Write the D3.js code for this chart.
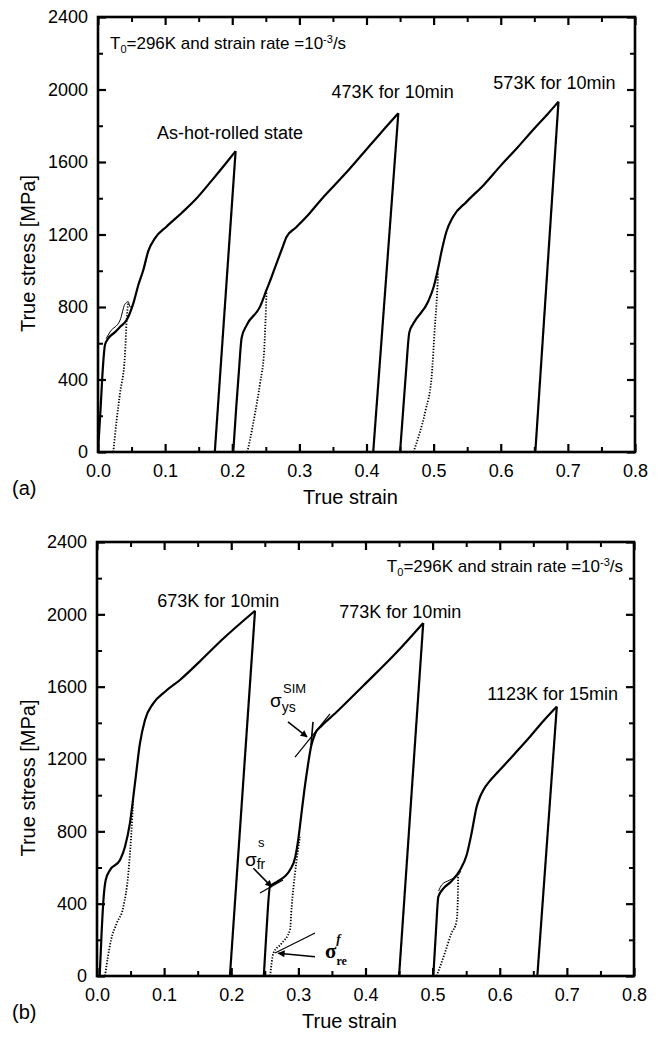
<!DOCTYPE html>
<head>
    <meta charset="utf-8">
    <title>True stress - true strain</title>
    <script src="https://cdn.jsdelivr.net/npm/d3@7"></script>
    <style>
        body { margin: 0; background: #fff; }
        text { font-family: Arial, "Liberation Sans", sans-serif; fill: #000; }
    </style>
</head>
<body>
<div id="container"></div>

<script>

// Axes
const strainTicks = [0, 0.1, 0.2, 0.3, 0.4, 0.5, 0.6, 0.7, 0.8];
const strainMinor = [0.05, 0.15, 0.25, 0.35, 0.45, 0.55, 0.65, 0.75];
const stressTicks = [0, 400, 800, 1200, 1600, 2000, 2400];
const stressMinor = [200, 600, 1000, 1400, 1800, 2200];

// (a) As-hot-rolled state
const hotLoad = [[0,0],[0.004,250],[0.007,450],[0.0104,590],[0.015,625],[0.025,660],[0.033,691],[0.0427,728],[0.0526,820],[0.06,920],[0.0675,1004],[0.075,1110],[0.085,1180],[0.102,1243],[0.125,1320],[0.1445,1390],[0.17,1500],[0.19,1590],[0.205,1660]];
const hotUnload = [[0.205,1660],[0.174,0]];
const hotLoop = [[0.012,625],[0.018,663],[0.033,728],[0.04,815],[0.045,829],[0.048,800],[0.052,810]];
const hotDotted = [[0.045,829],[0.0427,728],[0.04,526],[0.0328,324],[0.0278,177],[0.0228,0]];

// (a) 473K for 10min
const k473Load = [[0.2015,0],[0.206,250],[0.21,450],[0.214,630],[0.2215,700],[0.2414,802],[0.251,894],[0.258,960],[0.266,1041],[0.274,1120],[0.281,1188],[0.2935,1234],[0.313,1308],[0.333,1395],[0.353,1475],[0.375,1563],[0.395,1648],[0.42,1755],[0.4474,1869]];
const k473Unload = [[0.4474,1869],[0.41,0]];
const k473Dotted = [[0.251,880],[0.2495,720],[0.2476,563],[0.2414,379],[0.234,214],[0.226,60],[0.2225,0]];

// (a) 573K for 10min
const k573Load = [[0.45,0],[0.455,250],[0.459,450],[0.4638,660],[0.47,710],[0.4917,829],[0.5,910],[0.5066,1013],[0.512,1110],[0.519,1215],[0.529,1298],[0.549,1380],[0.575,1475],[0.6,1580],[0.625,1680],[0.65,1785],[0.67,1865],[0.686,1933]];
const k573Unload = [[0.686,1933],[0.6515,0]];
const k573Dotted = [[0.5066,990],[0.505,860],[0.502,700],[0.497,415],[0.488,230],[0.478,90],[0.47,0]];

// (b) 673K for 10min
const k673Load = [[0.004,0],[0.007,250],[0.01,440],[0.013,531],[0.0194,586],[0.0343,641],[0.0417,715],[0.049,844],[0.0566,1066],[0.064,1287],[0.0715,1416],[0.0839,1508],[0.1013,1572],[0.1236,1637],[0.1533,1740],[0.1858,1858],[0.2354,2020]];
const k673Unload = [[0.2354,2020],[0.198,0]];
const k673Dotted = [[0.054,975],[0.051,780],[0.0467,568],[0.0393,383],[0.0293,291],[0.0209,199],[0.016,100],[0.0119,0]];

// (b) 773K for 10min
const k773Load = [[0.2485,0],[0.2525,250],[0.2577,494],[0.268,520],[0.2875,586],[0.2955,660],[0.3,760],[0.304,880],[0.309,1030],[0.314,1160],[0.319,1270],[0.325,1340],[0.335,1385],[0.355,1453],[0.3967,1605],[0.4465,1790],[0.486,1952]];
const k773Unload = [[0.486,1952],[0.45,0]];
const k773Dotted = [[0.3024,770],[0.295,568],[0.29,383],[0.2875,254],[0.2752,181],[0.2627,125],[0.258,0]];

// (b) 1123K for 15min
const k1123Load = [[0.501,0],[0.505,250],[0.5085,438],[0.514,475],[0.5284,525],[0.5408,586],[0.5507,669],[0.558,789],[0.5656,936],[0.5705,990],[0.5756,1029],[0.585,1078],[0.5955,1121],[0.62,1220],[0.645,1323],[0.665,1410],[0.685,1490]];
const k1123Unload = [[0.685,1490],[0.656,0]];
const k1123Loop = [[0.509,470],[0.5134,503],[0.525,530],[0.5384,558],[0.542,580]];
const k1123Dotted = [[0.538,549],[0.5375,420],[0.5355,300],[0.528,236],[0.518,125],[0.506,0]];

// Labels [text, strain, stress]
const labelsA = [["As-hot-rolled state", 0.088, 1727], ["473K for 10min", 0.348, 1953], ["573K for 10min", 0.589, 2003]];
const labelsB = [["673K for 10min", 0.0898, 2042], ["773K for 10min", 0.361, 1978], ["1123K for 15min", 0.5815, 1526]];

const width = 660;
const height = 1038;

const svg = d3.create("svg")
              .attr("width", width)
              .attr("height", height);

// Arrow head
svg.append("defs").append("marker")
   .attr("id", "head")
   .attr("viewBox", "0 0 10 10")
   .attr("refX", 9).attr("refY", 5)
   .attr("markerWidth", 9).attr("markerHeight", 7)
   .attr("markerUnits", "userSpaceOnUse")
   .attr("orient", "auto")
   .append("path").attr("d", "M0,0 L10,5 L0,10 Z").attr("fill", "#000");

function drawPanel(box, series, labels) {
    const x = d3.scaleLinear().domain([0, 0.8]).range([box.left, box.right]);
    const y = d3.scaleLinear().domain([0, 2400]).range([box.bottom, box.top]);
    const g = svg.append("g");

    const makers = [d3.axisBottom, d3.axisTop, d3.axisLeft, d3.axisRight];
    makers.forEach((mk, i) => {
        const isX = i < 2;
        const sc = isX ? x : y;
        const pos = [box.bottom, box.top, box.left, box.right][i];
        const fmt = i == 0 ? d3.format(".1f") : i == 2 ? d3.format("d") : () => "";
        const tr = isX ? `translate(0,${pos})` : `translate(${pos},0)`;
        g.append("g").attr("transform", tr)
         .call(mk(sc).tickValues(isX ? strainTicks : stressTicks).tickSize(-8).tickSizeOuter(0)
                     .tickPadding(i == 0 ? 12 : 10).tickFormat(fmt))
         .call(s => s.select(".domain").remove())
         .call(s => s.selectAll("line").attr("stroke-width", 2.2))
         .call(s => s.selectAll("text").style("font-size", "18px").attr("font-family", null));
        g.append("g").attr("transform", tr)
         .call(mk(sc).tickValues(isX ? strainMinor : stressMinor).tickSize(-5).tickSizeOuter(0).tickFormat(""))
         .call(s => s.select(".domain").remove())
         .call(s => s.selectAll("line").attr("stroke-width", 2));
    });

    g.append("rect")
     .attr("x", box.left).attr("y", box.top)
     .attr("width", box.right - box.left).attr("height", box.bottom - box.top)
     .attr("fill", "none").attr("stroke", "#000").attr("stroke-width", 2.6);

    const smooth = d3.line().x(d => x(d[0])).y(d => y(d[1])).curve(d3.curveMonotoneX);
    series.forEach(s => {
        const pts = s.pts.slice().sort((a, b) => a[0] - b[0]);
        g.append("path")
         .attr("d", smooth(pts))
         .attr("fill", "none")
         .attr("stroke", "#000")
         .attr("stroke-width", s.w)
         .attr("stroke-dasharray", s.dash || null)
         .attr("stroke-linejoin", "round");
    });

    g.selectAll(".lab")
     .data(labels)
     .enter().append("text")
     .attr("x", d => x(d[1]))
     .attr("y", d => y(d[2]))
     .style("font-size", "18px")
     .text(d => d[0]);

    // axis titles
    g.append("text")
     .attr("x", (box.left + box.right) / 2 - 16)
     .attr("y", box.bottom + 52)
     .attr("text-anchor", "middle")
     .style("font-size", "20px")
     .text("True strain");
    g.append("text")
     .attr("transform", `translate(35,${(box.top + box.bottom) / 2 + 19}) rotate(-90)`)
     .attr("text-anchor", "middle")
     .style("font-size", "20px")
     .text("True stress [MPa]");

    g.append("text")
     .attr("x", 12).attr("y", box.bottom + 43)
     .style("font-size", "20px")
     .text(box.tag);

    return {g, x, y};
}

function condition(g, px, py, anchor) {
    const t = g.append("text").attr("x", px).attr("y", py)
               .attr("text-anchor", anchor).style("font-size", "17px");
    t.append("tspan").text("T");
    t.append("tspan").attr("dy", 4).style("font-size", "11px").text("0");
    t.append("tspan").attr("dy", -4).text("=296K and strain rate =10");
    t.append("tspan").attr("dy", -6).style("font-size", "11px").text("-3");
    t.append("tspan").attr("dy", 6).text("/s");
}

const dots = "1.3,1.6";

const pa = drawPanel({left: 98, right: 635, top: 17, bottom: 452, tag: "(a)"}, [
    {pts: hotLoad, w: 2.2}, {pts: hotUnload, w: 2.2}, {pts: hotLoop, w: 1}, {pts: hotDotted, w: 1.8, dash: dots},
    {pts: k473Load, w: 2.2}, {pts: k473Unload, w: 2.2}, {pts: k473Dotted, w: 1.8, dash: dots},
    {pts: k573Load, w: 2.2}, {pts: k573Unload, w: 2.2}, {pts: k573Dotted, w: 1.8, dash: dots}
], labelsA);
condition(pa.g, pa.x(0.0179), pa.y(2223), "start");

const pb = drawPanel({left: 97, right: 634, top: 542, bottom: 976, tag: "(b)"}, [
    {pts: k673Load, w: 2.2}, {pts: k673Unload, w: 2.2}, {pts: k673Dotted, w: 1.8, dash: dots},
    {pts: k773Load, w: 2.2}, {pts: k773Unload, w: 2.2}, {pts: k773Dotted, w: 1.8, dash: dots},
    {pts: k1123Load, w: 2.2}, {pts: k1123Unload, w: 2.2}, {pts: k1123Loop, w: 1}, {pts: k1123Dotted, w: 1.8, dash: dots}
], labelsB);
condition(pb.g, pb.x(0.7836), pb.y(2234), "end");

// Annotations on (b)
const seg = (a, b, arrow, w) => pb.g.append("line")
    .attr("x1", pb.x(a[0])).attr("y1", pb.y(a[1]))
    .attr("x2", pb.x(b[0])).attr("y2", pb.y(b[1]))
    .attr("stroke", "#000").attr("stroke-width", w || 1.2)
    .attr("marker-end", arrow ? "url(#head)" : null);

seg([0.2845, 1405], [0.3129, 1322], true, 1.5);
seg([0.295, 1211], [0.3471, 1449]);
seg([0.3218, 1405], [0.3188, 1277], false, 1.6);
seg([0.2329, 596], [0.2603, 493], true, 1.5);
seg([0.2428, 459], [0.2771, 531]);
seg([0.3248, 107], [0.2701, 126], true, 1.5);
seg([0.2652, 127], [0.3248, 238]);

const sys = pb.g.append("text").attr("x", pb.x(0.2577)).attr("y", pb.y(1488)).style("font-size", "19px");
sys.append("tspan").text("σ");
sys.append("tspan").attr("dy", 5).style("font-size", "14px").text("ys");
pb.g.append("text").attr("x", pb.x(0.2771)).attr("y", pb.y(1565)).style("font-size", "13px").text("SIM");

const sfr = pb.g.append("text").attr("x", pb.x(0.2205)).attr("y", pb.y(608)).style("font-size", "19px");
sfr.append("tspan").text("σ");
sfr.append("tspan").attr("dy", 3).style("font-size", "14px").text("fr");
pb.g.append("text").attr("x", pb.x(0.2399)).attr("y", pb.y(713)).style("font-size", "13px").text("s");

const sre = pb.g.append("text").attr("x", pb.x(0.3397)).attr("y", pb.y(100))
    .style("font-family", "'Liberation Serif', 'Times New Roman', serif").style("font-weight", "bold").style("font-size", "21px");
sre.append("tspan").text("σ");
sre.append("tspan").attr("dy", 7).style("font-size", "12px").text("re");
pb.g.append("text").attr("x", pb.x(0.3565)).attr("y", pb.y(180))
    .style("font-family", "'Liberation Serif', 'Times New Roman', serif").style("font-weight", "bold")
    .style("font-style", "italic").style("font-size", "13px").text("f");

container.append(svg.node());

</script>
</body>
